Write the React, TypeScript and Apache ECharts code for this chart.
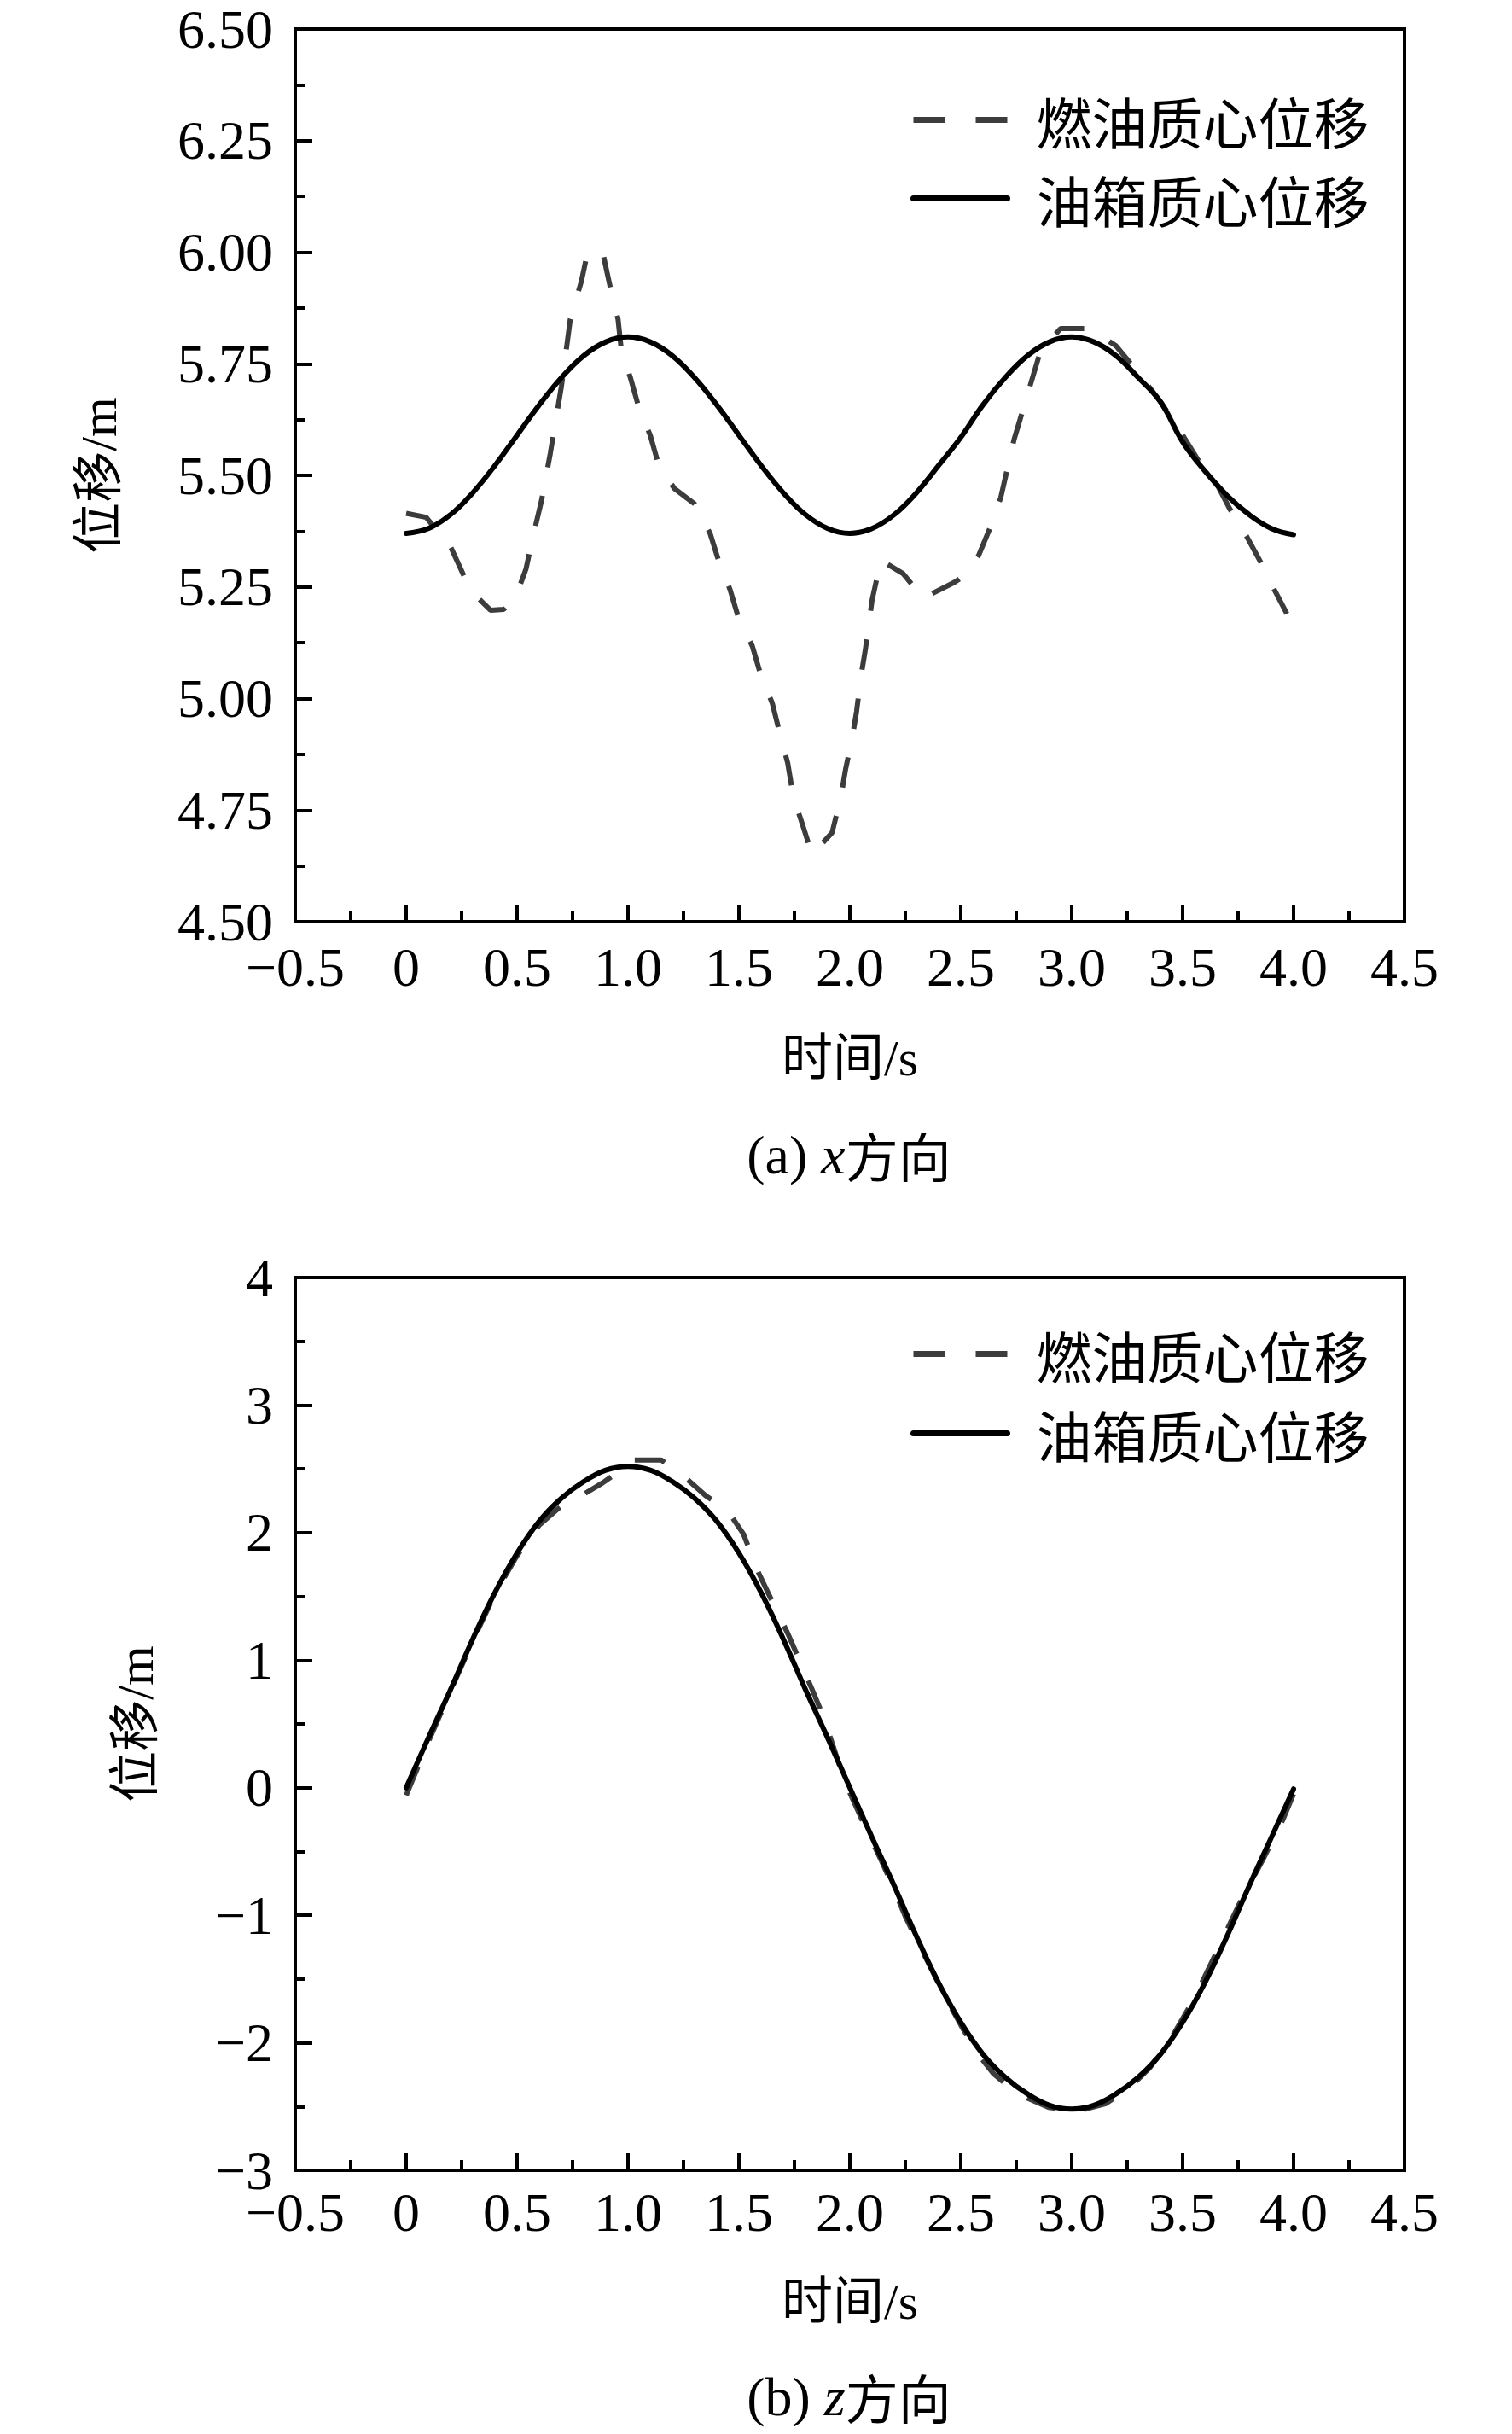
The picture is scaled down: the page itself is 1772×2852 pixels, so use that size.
import React, { useEffect, useRef } from "react";
import * as echarts from "echarts";

// ---------- data ----------
const seriesNames = ["燃油质心位移", "油箱质心位移"];

const xTicksMin = -0.5;
const xTicksMax = 4.5;

// (a) x direction
const fuelXTime = [
  0.0, 0.09, 0.2, 0.24, 0.29, 0.38, 0.44, 0.5, 0.54, 0.57, 0.61, 0.65, 0.7, 0.74, 0.79, 0.82,
  0.89, 0.925, 0.955, 0.97, 1.01, 1.05, 1.1, 1.14, 1.21, 1.3, 1.37, 1.41, 1.46, 1.5, 1.56,
  1.6, 1.65, 1.68, 1.72, 1.745, 1.785, 1.83, 1.92, 1.96, 1.98, 2.01, 2.03, 2.05, 2.07, 2.1,
  2.14, 2.24, 2.33, 2.47, 2.53, 2.58, 2.63, 2.68, 2.74, 2.8, 2.86, 2.95, 3.08, 3.2, 3.3,
  3.4, 3.5, 3.6, 3.66, 3.71, 3.79, 3.85, 3.91, 3.97,
];
const fuelXValue = [
  5.415, 5.406, 5.34, 5.297, 5.242, 5.198, 5.2, 5.236, 5.29, 5.36, 5.443, 5.55, 5.7, 5.85,
  5.935, 6.005, 5.99, 5.91, 5.85, 5.78, 5.72, 5.65, 5.59, 5.52, 5.47, 5.436, 5.37, 5.306,
  5.244, 5.177, 5.118, 5.05, 4.99, 4.93, 4.855, 4.78, 4.72, 4.65, 4.7, 4.78, 4.84, 4.91,
  4.97, 5.05, 5.11, 5.22, 5.31, 5.28, 5.225, 5.26, 5.28, 5.32, 5.38, 5.45, 5.58, 5.68,
  5.78, 5.829, 5.829, 5.79, 5.73, 5.665, 5.59, 5.51, 5.475, 5.427, 5.362, 5.307, 5.247, 5.19,
];

const tankTime = [
  0.0, 0.1, 0.2, 0.3, 0.4, 0.5, 0.6, 0.7, 0.8, 0.9, 1.0, 1.1, 1.2, 1.3, 1.4, 1.5, 1.6, 1.7,
  1.8, 1.9, 2.0, 2.1, 2.2, 2.3, 2.4, 2.5, 2.6, 2.7, 2.8, 2.9, 3.0, 3.1, 3.2, 3.3, 3.4, 3.5,
  3.6, 3.7, 3.8, 3.9, 4.0,
];
const tankXValue = [
  5.37, 5.381, 5.412, 5.461, 5.522, 5.59, 5.658, 5.719, 5.768, 5.799, 5.81, 5.799, 5.768,
  5.719, 5.658, 5.59, 5.522, 5.461, 5.412, 5.381, 5.37, 5.381, 5.412, 5.461, 5.522, 5.585,
  5.658, 5.719, 5.768, 5.799, 5.81, 5.799, 5.768, 5.719, 5.665, 5.575, 5.51, 5.455, 5.412,
  5.381, 5.367,
];

// (b) z direction
const fuelZTime = [
  0.0, 0.1, 0.2, 0.3, 0.4, 0.5, 0.6, 0.7, 0.79, 0.885, 0.95, 1.03, 1.15, 1.26, 1.35, 1.45,
  1.52, 1.59, 1.65, 1.72, 1.77, 1.83, 1.88, 1.96, 2.0, 2.07, 2.14, 2.19, 2.25, 2.3, 2.37,
  2.43, 2.5, 2.565, 2.646, 2.754, 2.896, 3.025, 3.154, 3.257, 3.35, 3.45, 3.55, 3.65, 3.75,
  3.866, 3.952, 4.0,
];
const fuelZValue = [
  -0.06, 0.36, 0.76, 1.15, 1.52, 1.82, 2.06, 2.21, 2.29, 2.39, 2.47, 2.57, 2.57, 2.43, 2.29,
  2.17, 1.99, 1.68, 1.46, 1.21, 1.01, 0.77, 0.56, 0.14, -0.04, -0.31, -0.565, -0.76, -1.01,
  -1.19, -1.43, -1.64, -1.86, -2.06, -2.24, -2.4, -2.506, -2.537, -2.477, -2.358, -2.2,
  -1.96, -1.66, -1.3, -0.93, -0.55, -0.25, -0.05,
];
const tankZValue = [
  0.0, 0.39, 0.77, 1.165, 1.53, 1.84, 2.09, 2.27, 2.4, 2.49, 2.52, 2.49, 2.4, 2.27, 2.09,
  1.84, 1.53, 1.165, 0.77, 0.39, 0.0, -0.39, -0.77, -1.165, -1.53, -1.84, -2.09, -2.27,
  -2.4, -2.49, -2.52, -2.49, -2.4, -2.27, -2.09, -1.84, -1.53, -1.165, -0.77, -0.39, -0.01,
];

const yAxisNames = ["位移/m", "位移/m"];
const xAxisNames = ["时间/s", "时间/s"];
const captions = [
  ["(a) ", "x", "方向"],
  ["(b) ", "z", "方向"],
];

// ---------- helpers ----------
const SERIF = "'Liberation Serif', 'Noto Sans CJK SC'";
const CJK = "'Noto Sans CJK SC'";
const MINUS = "\u2212";

const zip = (t: number[], v: number[]) => t.map((x, i) => [x, v[i]]);

const fmtX = (v: number) => {
  if (Math.abs(v) < 1e-9) return "0";
  return (v < 0 ? MINUS : "") + Math.abs(v).toFixed(1);
};
const fmtYa = (v: number) => v.toFixed(2);
const fmtYb = (v: number) => (v < 0 ? MINUS : "") + String(Math.abs(Math.round(v)));

const GRID_LEFT = 346;
const GRID_W = 1300;
const GRID_H = 1046;
const GRID_TOPS = [34, 1497];

const axisLine = { show: true, onZero: false, lineStyle: { color: "#000", width: 4 } };
const axisTick = { show: true, inside: true, length: 20, lineStyle: { color: "#000", width: 4 } };
const minorTick = { show: true, splitNumber: 2, length: 12, lineStyle: { color: "#000", width: 4 } };

function makeX(gridIndex: number, labelMargin: number, nameGap: number) {
  return {
    type: "value",
    gridIndex,
    min: xTicksMin,
    max: xTicksMax,
    interval: 0.5,
    axisLine,
    axisTick,
    minorTick,
    splitLine: { show: false },
    axisLabel: {
      formatter: fmtX,
      margin: labelMargin,
      color: "#000",
      fontSize: 64,
      lineHeight: 44,
      fontFamily: SERIF,
    },
    name: xAxisNames[gridIndex],
    nameLocation: "middle",
    nameGap,
    nameTextStyle: { color: "#000", fontSize: 60, fontFamily: SERIF },
  };
}

function makeY(
  gridIndex: number,
  min: number,
  max: number,
  interval: number,
  fmt: (v: number) => string,
  nameGap: number
) {
  return {
    type: "value",
    gridIndex,
    min,
    max,
    interval,
    axisLine,
    axisTick,
    minorTick,
    splitLine: { show: false },
    axisLabel: {
      formatter: fmt,
      margin: 26,
      color: "#000",
      fontSize: 64,
      lineHeight: 44,
      fontFamily: SERIF,
    },
    name: yAxisNames[gridIndex],
    nameLocation: "middle",
    nameRotate: 90,
    nameGap,
    nameTextStyle: { color: "#000", fontSize: 60, fontFamily: SERIF },
  };
}

const DASH_COLOR = "#3c3c3c";
const dashedStyle = { color: DASH_COLOR, width: 6, type: [36, 34], cap: "butt" };
const solidStyle = { color: "#000000", width: 6, type: "solid", cap: "round" };

const hiddenSymbol = {
  color: "rgba(0,0,0,0)",
  borderColor: "rgba(0,0,0,0)",
  borderWidth: 0,
  opacity: 0,
};

function makeLegend(top: number, itemGap: number) {
  return {
    show: true,
    selectedMode: false,
    orient: "vertical",
    left: 1067,
    top,
    padding: 0,
    itemWidth: 110,
    itemHeight: 30,
    itemGap,
    data: [
      {
        name: seriesNames[0],
        itemStyle: hiddenSymbol,
        lineStyle: { color: DASH_COLOR, width: 7, type: [37, 36], cap: "butt", opacity: 1 },
      },
      {
        name: seriesNames[1],
        itemStyle: hiddenSymbol,
        lineStyle: { color: "#000", width: 7, type: "solid", cap: "round", opacity: 1 },
      },
    ],
    textStyle: {
      color: "#000",
      fontSize: 65,
      lineHeight: 65,
      fontFamily: CJK,
      padding: [0, 0, 0, 29],
    },
  };
}

function captionText(idx: number, cx: number, cy: number) {
  const [a, b, c] = captions[idx];
  return {
    type: "text",
    x: cx,
    y: cy,
    style: {
      text: `{n|${a}}{i|${b}}{c|${c}}`,
      align: "center",
      verticalAlign: "middle",
      textAlign: "center",
      textVerticalAlign: "middle",
      fill: "#000",
      rich: {
        n: { fontFamily: "'Liberation Serif'", fontSize: 64, fill: "#000", lineHeight: 64 },
        i: {
          fontFamily: "'Liberation Serif'",
          fontStyle: "italic",
          fontSize: 64,
          fill: "#000",
          lineHeight: 64,
        },
        c: { fontFamily: CJK, fontSize: 62, fill: "#000", lineHeight: 64 },
      },
    },
  };
}

export default function App() {
  const ref = useRef<HTMLDivElement | null>(null);

  useEffect(() => {
    if (!ref.current) return;
    const chart = echarts.init(ref.current, undefined, { renderer: "svg" });
    const option = {
      animation: false,
      backgroundColor: "#ffffff",
      grid: GRID_TOPS.map((top) => ({
        left: GRID_LEFT,
        top,
        width: GRID_W,
        height: GRID_H,
        show: true,
        borderColor: "#000",
        borderWidth: 4,
        backgroundColor: "transparent",
        containLabel: false,
      })),
      legend: [makeLegend(108, 27), makeLegend(1554, 28)],
      xAxis: [makeX(0, 31, 130), makeX(1, 27, 124)],
      yAxis: [
        makeY(0, 4.5, 6.5, 0.25, fmtYa, 200),
        makeY(1, -3, 4, 1, fmtYb, 157),
      ],
      series: [
        {
          name: seriesNames[0],
          type: "line",
          xAxisIndex: 0,
          yAxisIndex: 0,
          data: zip(fuelXTime, fuelXValue),
          symbol: "none",
          showSymbol: false,
          lineStyle: dashedStyle,
          itemStyle: { color: DASH_COLOR },
          z: 3,
        },
        {
          name: seriesNames[1],
          type: "line",
          xAxisIndex: 0,
          yAxisIndex: 0,
          data: zip(tankTime, tankXValue),
          symbol: "none",
          showSymbol: false,
          smooth: 0.4,
          lineStyle: solidStyle,
          itemStyle: { color: "#000" },
          z: 4,
        },
        {
          name: seriesNames[0],
          type: "line",
          xAxisIndex: 1,
          yAxisIndex: 1,
          data: zip(fuelZTime, fuelZValue),
          symbol: "none",
          showSymbol: false,
          lineStyle: dashedStyle,
          itemStyle: { color: DASH_COLOR },
          z: 3,
        },
        {
          name: seriesNames[1],
          type: "line",
          xAxisIndex: 1,
          yAxisIndex: 1,
          data: zip(tankTime, tankZValue),
          symbol: "none",
          showSymbol: false,
          smooth: 0.4,
          lineStyle: solidStyle,
          itemStyle: { color: "#000" },
          z: 4,
        },
      ],
      graphic: [captionText(0, 995, 1353), captionText(1, 995, 2808)],
    };
    chart.setOption(option as any);
    return () => {
      chart.dispose();
    };
  }, []);

  return (
    <div
      ref={ref}
      style={{
        position: "absolute",
        left: 0,
        top: 0,
        width: 1772,
        height: 2852,
        background: "#fff",
      }}
    />
  );
}
